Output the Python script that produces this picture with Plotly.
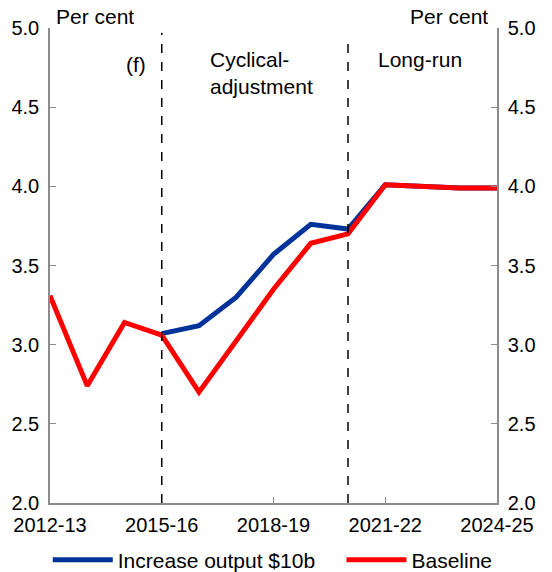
import plotly.graph_objects as go

years = ["2012-13", "2013-14", "2014-15", "2015-16", "2016-17", "2017-18", "2018-19",
         "2019-20", "2020-21", "2021-22", "2022-23", "2023-24", "2024-25"]
baseline = [3.31, 2.74, 3.14, 3.06, 2.70, 3.03, 3.35, 3.64, 3.70, 4.01, 4.00, 3.99, 3.99]
increase = [None, None, None, 3.07, 3.12, 3.30, 3.57, 3.76, 3.73, 4.01, 4.00, 3.99, 3.99]
tick_years = ["2012-13", "2015-16", "2018-19", "2021-22", "2024-25"]
y_ticks = [2.0, 2.5, 3.0, 3.5, 4.0, 4.5, 5.0]
divider_years = ["2015-16", "2020-21"]

FONT = "Liberation Sans, Arial, sans-serif"
FS = 20
FT = 21
AX = "#8c8c8c"

fig = go.Figure()
fig.add_trace(go.Scatter(x=years, y=increase, mode="lines", name="Increase output $10b",
                         line=dict(color="#003399", width=5), legend="legend"))
fig.add_trace(go.Scatter(x=years, y=baseline, mode="lines", name="Baseline",
                         line=dict(color="#FF0000", width=5), legend="legend2"))
# invisible trace for right axis
fig.add_trace(go.Scatter(x=years, y=baseline, yaxis="y2", mode="lines",
                         line=dict(width=0), showlegend=False, hoverinfo="skip", opacity=0))

for d, top in zip(divider_years, [0.99, 0.97]):
    fig.add_shape(type="line", xref="x", yref="paper", x0=d, x1=d, y0=0, y1=top,
                  line=dict(color="black", width=1.5, dash="dash"))

yax = dict(range=[2.0, 5.0], tickvals=y_ticks, ticktext=[f"{v:.1f}" for v in y_ticks],
           ticks="inside", ticklen=6, tickcolor=AX, showline=True, linecolor=AX, linewidth=1.5,
           showgrid=False, zeroline=False, automargin=False, ticklabelstandoff=5,
           tickfont=dict(family=FONT, size=FS, color="black"))

leg = dict(orientation="h", xanchor="left", y=-0.12, yanchor="middle",
           font=dict(family=FONT, size=FT), itemwidth=60, tracegroupgap=0)

fig.update_layout(
    width=552, height=572,
    margin=dict(l=42, r=63, t=20, b=77, autoexpand=False),
    paper_bgcolor="white", plot_bgcolor="white",
    font=dict(family=FONT, size=FS, color="black"),
    xaxis=dict(type="category", categoryorder="array", categoryarray=years,
               range=[0, 12], tickvals=tick_years, ticktext=tick_years,
               ticks="inside", ticklen=6, tickcolor=AX, showline=True, linecolor=AX,
               linewidth=1.5, showgrid=False, zeroline=False, automargin=False,
               ticklabelstandoff=3,
               tickfont=dict(family=FONT, size=FS, color="black")),
    yaxis=yax,
    yaxis2=dict(yax, overlaying="y", side="right"),
    legend=dict(leg, x=-0.005),
    legend2=dict(leg, x=0.652),
    showlegend=True,
)

anns = [
    dict(text="Per cent", x=0.0, xref="paper", xanchor="left", xshift=5, y=1.0, yref="paper",
         yanchor="middle", yshift=12, height=16, borderpad=0),
    dict(text="Per cent", x=1.0, xref="paper", xanchor="right", xshift=-8, y=1.0, yref="paper",
         yanchor="middle", yshift=12, height=16, borderpad=0),
    dict(text="(f)", x="2014-15", xref="x", xanchor="center", xshift=11, y=4.77, yref="y",
         yanchor="middle"),
    dict(text="Cyclical-<br>adjustment", x="2016-17", xref="x", xanchor="left", xshift=9,
         y=4.715, yref="y", yanchor="middle", align="left"),
    dict(text="Long-run", x="2020-21", xref="x", xanchor="left", xshift=28, y=4.80, yref="y",
         yanchor="middle", align="left"),
]
for a in anns:
    fig.add_annotation(showarrow=False, font=dict(family=FONT, size=FT, color="black"), **a)

fig.write_html("out.html")
